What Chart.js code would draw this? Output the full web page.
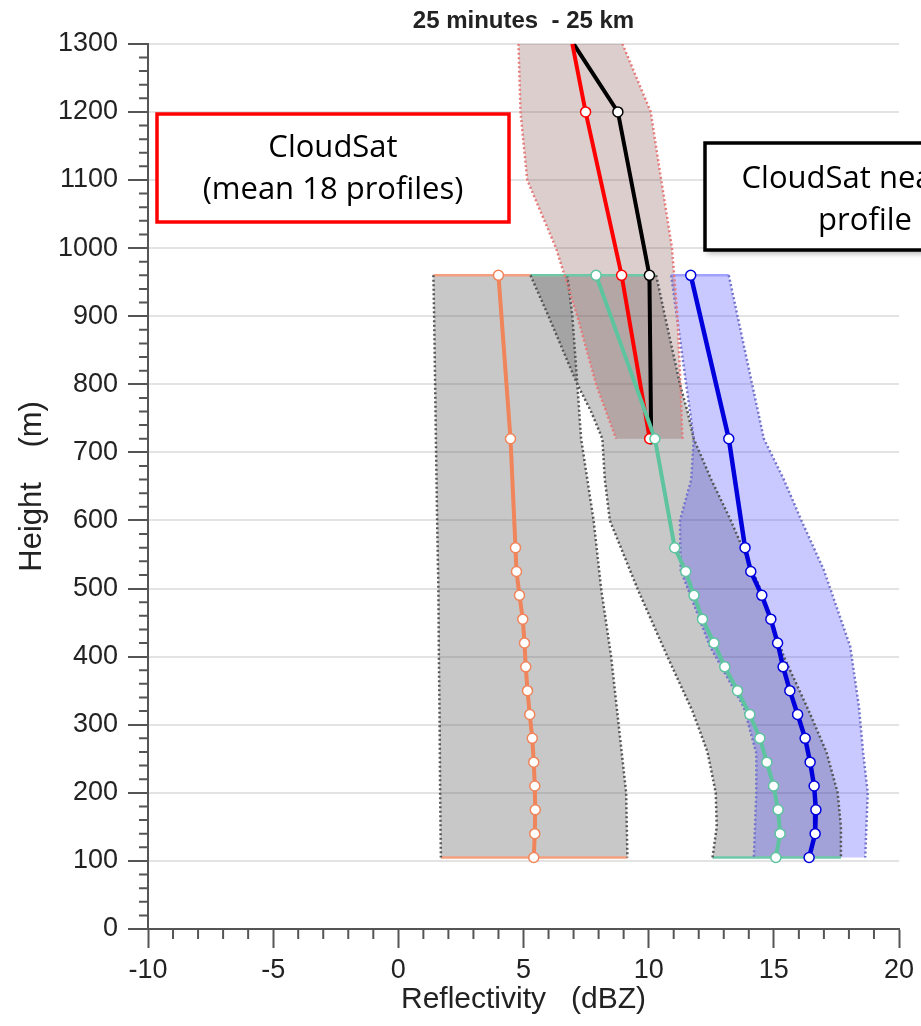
<!DOCTYPE html>
<html>
<head>
<meta charset="utf-8">
<title>25 minutes - 25 km</title>
<script src="https://cdn.jsdelivr.net/npm/chart.js@4.4.1/dist/chart.umd.min.js"></script>
<style>
	html, body { margin: 0; padding: 0; background: #fff; }
	canvas { display: block; }
</style>
</head>
<body>
<canvas id="canvas01" width="921" height="1026"></canvas>
<script>

// perfiles medios MRR (altura en m, reflectividad en dBZ)
const mrrH = [960, 720, 560, 525, 490, 455, 420, 385, 350, 315, 280, 245, 210, 175, 140, 105];
const orangeZ = [4.0, 4.48, 4.68, 4.72, 4.84, 4.97, 5.04, 5.09, 5.16, 5.25, 5.35, 5.41, 5.45, 5.47, 5.45, 5.41];
const greenZ = [7.9, 10.25, 11.04, 11.48, 11.81, 12.15, 12.61, 13.04, 13.55, 14.04, 14.44, 14.72, 14.99, 15.17, 15.25, 15.08];
const blueZ = [11.68, 13.2, 13.85, 14.08, 14.52, 14.88, 15.15, 15.37, 15.64, 15.95, 16.25, 16.45, 16.61, 16.68, 16.65, 16.41];

// CloudSat
const csH = [1300, 1200, 960, 720];
const redZ = [6.95, 7.48, 8.92, 10.04];
const blackZ = [7.0, 8.77, 10.03, 10.1];
const csRadius = [0, 5, 5, 5];

// bandas (min / max)
const orangeBandH = [960, 900, 800, 720, 600, 500, 400, 300, 200, 105];
const orangeBandLo = [1.4, 1.43, 1.47, 1.5, 1.55, 1.6, 1.62, 1.65, 1.67, 1.7];
const orangeBandHi = [6.75, 6.95, 7.15, 7.3, 7.8, 8.1, 8.5, 8.8, 9.1, 9.15];

const greenBandH = [960, 900, 800, 760, 720, 660, 600, 500, 400, 320, 260, 200, 150, 105];
const greenBandLo = [5.28, 6.0, 7.15, 7.7, 8.15, 8.25, 8.45, 9.55, 10.75, 11.75, 12.35, 12.68, 12.72, 12.55];
const greenBandHi = [10.3, 10.65, 11.25, 11.55, 11.8, 12.5, 13.28, 14.45, 15.4, 16.4, 17.1, 17.55, 17.68, 17.68];

const blueBandH = [960, 720, 660, 600, 527, 415, 326, 258, 200, 105];
const blueBandLo = [10.9, 11.8, 11.7, 11.25, 11.28, 12.45, 13.8, 14.3, 14.3, 14.2];
const blueBandHi = [13.2, 14.6, 15.4, 16.1, 17.0, 18.05, 18.4, 18.57, 18.75, 18.65];

const redBandH = [1300, 1200, 1100, 1000, 900, 800, 720];
const redBandLo = [4.8, 4.88, 5.15, 6.3, 7.15, 7.9, 8.7];
const redBandHi = [8.95, 10.08, 10.5, 10.93, 11.15, 11.27, 11.35];

// ejes
const xMin = -10, xMax = 20, xStep = 5, xMinorStep = 1;
const yMin = 0, yMax = 1300, yStep = 100, yMinorStep = 20;

const txtFont = '"Liberation Sans", Arial, sans-serif';


function perfil(hs, zs) {
	return hs.map(function (h, i) { return { x: zs[i], y: h }; });
}

// poligono cerrado: borde izq. de arriba a abajo, borde der. de abajo a arriba
function banda(hs, lo, hi) {
	var pts = [];
	for (var i = 0; i < hs.length; i++) pts.push({ x: lo[i], y: hs[i] });
	for (var j = hs.length - 1; j >= 0; j--) pts.push({ x: hi[j], y: hs[j] });
	return pts;
}

function borde(pts, color, dash, order) {
	return {
		data: pts,
		showLine: true,
		fill: false,
		borderColor: color,
		borderWidth: 2.5,
		borderDash: dash,
		pointRadius: 0,
		pointHoverRadius: 0,
		order: order
	};
}

// relleno + bordes laterales punteados + bordes sup./inf.
function dsBanda(hs, lo, hi, fillColor, sideColor, topColor, botColor, order) {
	var n = hs.length - 1;
	return [
		{
			data: banda(hs, lo, hi),
			showLine: true,
			fill: 'shape',
			backgroundColor: fillColor,
			borderColor: 'rgba(0,0,0,0)',
			borderWidth: 1,
			pointRadius: 0,
			pointHoverRadius: 0,
			order: order + 20
		},
		borde(perfil(hs, lo), sideColor, [2, 2.5], order),
		borde(perfil(hs, hi), sideColor, [2, 2.5], order),
		borde([{ x: lo[0], y: hs[0] }, { x: hi[0], y: hs[0] }], topColor, [], order),
		borde([{ x: lo[n], y: hs[n] }, { x: hi[n], y: hs[n] }], botColor, [], order)
	];
}

function dsLinea(pts, color, width, radius, order) {
	return {
		data: pts,
		showLine: true,
		fill: false,
		borderColor: color,
		backgroundColor: color,
		borderWidth: width,
		pointRadius: radius,
		pointHoverRadius: radius,
		pointBackgroundColor: '#ffffff',
		pointBorderColor: color,
		pointBorderWidth: 1.5,
		order: order
	};
}

const minorTicks = {
	id: 'minorTicks',
	afterDraw(chart) {
		const { ctx, chartArea: { left, bottom }, scales: { x, y } } = chart;
		ctx.save();
		ctx.strokeStyle = '#555';
		ctx.lineWidth = 2;
		ctx.beginPath();
		for (let v = yMin; v <= yMax; v += yMinorStep) {
			if (v % yStep === 0) continue;
			const py = y.getPixelForValue(v);
			ctx.moveTo(left - 9, py);
			ctx.lineTo(left, py);
		}
		for (let v = xMin; v <= xMax; v += xMinorStep) {
			if (v % xStep === 0) continue;
			const px = x.getPixelForValue(v);
			ctx.moveTo(px, bottom);
			ctx.lineTo(px, bottom + 10);
		}
		ctx.stroke();
		ctx.restore();
	}
};

// cuadros de texto
const textBoxes = {
	id: 'textBoxes',
	afterDraw(chart) {
		const ctx = chart.ctx;
		ctx.save();
		ctx.font = '31px "Open Sans", "Noto Sans", sans-serif';
		ctx.textAlign = 'center';
		ctx.textBaseline = 'alphabetic';

		// caja negra con sombra
		ctx.save();
		ctx.shadowColor = 'rgba(0,0,0,0.35)';
		ctx.shadowBlur = 6;
		ctx.shadowOffsetX = 2;
		ctx.shadowOffsetY = 3;
		ctx.fillStyle = '#fff';
		ctx.fillRect(705, 143, 330, 107);
		ctx.restore();
		ctx.strokeStyle = '#000';
		ctx.lineWidth = 3.5;
		ctx.strokeRect(705, 143, 330, 107);
		ctx.fillStyle = '#000';
		ctx.fillText('CloudSat nearest', 865, 188);
		ctx.fillText('profile', 865, 230);

		// caja roja
		ctx.fillStyle = '#fff';
		ctx.fillRect(157, 114, 352, 108);
		ctx.strokeStyle = '#ff0000';
		ctx.strokeRect(157, 114, 352, 108);
		ctx.fillStyle = '#000';
		ctx.fillText('CloudSat', 333, 157);
		ctx.fillText('(mean 18 profiles)', 333, 199);
		ctx.restore();
	}
};

var graf01 = null;

function GrafPerfiles() {
	if (graf01 != null) { graf01.destroy(); }

	var chartData = {
		datasets: [
			dsLinea(perfil(mrrH, greenZ), '#5ec4a0', 4, 5, 0),
			dsLinea(perfil(mrrH, orangeZ), '#f0845a', 4, 5, 0),
			dsLinea(perfil(mrrH, blueZ), '#0000dd', 4.5, 5, 0),
			dsLinea(perfil(csH, redZ), '#ff0000', 4, csRadius, 1),
			dsLinea(perfil(csH, blackZ), '#000000', 4, csRadius, 2)
		].concat(
			dsBanda(redBandH, redBandLo, redBandHi, 'rgba(130,75,75,0.27)', '#e67a7a', 'rgba(0,0,0,0)', 'rgba(0,0,0,0)', 10),
			dsBanda(blueBandH, blueBandLo, blueBandHi, 'rgba(60,60,255,0.28)', '#7373cc', '#a0a0ff', 'rgba(0,0,0,0)', 11),
			dsBanda(greenBandH, greenBandLo, greenBandHi, 'rgba(95,95,95,0.34)', '#555555', '#6cc8a8', '#6cc8a8', 12),
			dsBanda(orangeBandH, orangeBandLo, orangeBandHi, 'rgba(95,95,95,0.34)', '#555555', '#f4a080', '#f4a080', 13)
		)
	};

	var config01 = {
		type: 'scatter',
		data: chartData,
		options: {
			responsive: false,
			animation: false,
			layout: {
				padding: { left: 0, right: 22, top: 0, bottom: 0 }
			},
			plugins: {
				legend: { display: false },
				tooltip: { enabled: false },
				title: {
					display: true,
					text: '25 minutes  - 25 km',
					color: '#222',
					fullSize: false,
					font: { family: txtFont, size: 24, weight: 'bold' },
					padding: { top: 7, bottom: 8 }
				}
			},
			scales: {
				x: {
					type: 'linear',
					min: xMin,
					max: xMax,
					ticks: {
						stepSize: xStep,
						color: '#222',
						font: { family: txtFont, size: 27 },
						padding: 6,
						callback: function (v) { return String(v); }
					},
					grid: {
						drawOnChartArea: false,
						tickColor: '#555',
						tickLength: 19,
						tickWidth: 2
					},
					border: { color: '#555', width: 2 },
					title: {
						display: true,
						text: 'Reflectivity   (dBZ)',
						color: '#222',
						font: { family: txtFont, size: 30 },
						padding: { top: 0, bottom: 8 }
					},
					afterFit: function (s) { s.height = 97; }
				},
				y: {
					type: 'linear',
					min: yMin,
					max: yMax,
					ticks: {
						stepSize: yStep,
						color: '#222',
						font: { family: txtFont, size: 27 },
						padding: 10,
						callback: function (v) { return String(v); }
					},
					grid: {
						color: '#e3e3e3',
						lineWidth: 2,
						tickColor: '#555',
						tickLength: 20,
						tickWidth: 2
					},
					border: { color: '#555', width: 2 },
					title: {
						display: true,
						text: 'Height    (m)',
						color: '#222',
						font: { family: txtFont, size: 31 },
						padding: { top: 14, bottom: 0 }
					},
					afterFit: function (s) { s.width = 148; }
				}
			}
		},
		plugins: [minorTicks, textBoxes]
	};

	var ctx01 = document.getElementById('canvas01').getContext('2d');
	graf01 = new Chart(ctx01, config01);
}

GrafPerfiles();

</script>
</body>
</html>
